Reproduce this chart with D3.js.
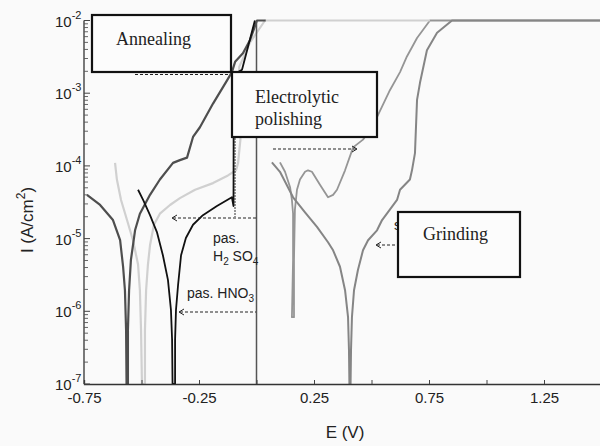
<!DOCTYPE html>
<html><head><meta charset="utf-8">
<script src="https://cdnjs.cloudflare.com/ajax/libs/d3/7.8.5/d3.min.js"></script>
<style>body{margin:0;background:#fafafa;}svg{display:block;}</style>
</head><body><svg id="c" width="600" height="446"></svg>
<script>
// ---- data (E in V, I in A/cm2) ----
const annealE = [-0.737,-0.680,-0.624,-0.593,-0.580,-0.572,-0.567,-0.565,-0.559,-0.559,-0.554,-0.546,-0.528,-0.507,-0.463,-0.420,-0.363,-0.333,-0.302,-0.276,-0.246,-0.189,-0.128,-0.107,-0.093,-0.059,-0.028,0.002,0.040];
const annealI = [4.0e-5,2.9e-5,1.8e-5,9.5e-6,4.1e-6,1.95e-6,5.5e-7,1e-7,1e-7,5.5e-7,1.95e-6,5.1e-6,1.3e-5,2.2e-5,4.0e-5,6.5e-5,1.1e-4,1.2e-4,1.3e-4,2.5e-4,3.4e-4,7.2e-4,1.5e-3,1.95e-3,2.7e-3,3.55e-3,5.4e-3,1e-2,1e-2];

const electroE = [-0.615,-0.607,-0.589,-0.563,-0.537,-0.515,-0.507,-0.502,-0.498,-0.485,-0.485,-0.480,-0.472,-0.463,-0.446,-0.420,-0.376,-0.333,-0.267,-0.189,-0.124,-0.089,-0.080,-0.070,-0.075,-0.028,0.037,0.754];
const electroI = [1.1e-4,6.5e-5,3.4e-5,1.8e-5,9.5e-6,4.4e-6,1.95e-6,5.5e-7,1e-7,1e-7,5.5e-7,1.95e-6,4.4e-6,8.1e-6,1.55e-5,2.2e-5,2.9e-5,3.6e-5,4.7e-5,5.8e-5,7.4e-5,8.7e-5,1.1e-4,2.3e-4,2.3e-3,5.0e-3,1e-2,1e-2];

const pasE = [-0.515,-0.493,-0.463,-0.433,-0.407,-0.385,-0.372,-0.367,-0.365,-0.354,-0.354,-0.350,-0.341,-0.328,-0.307,-0.276,-0.233,-0.172,-0.107,-0.100,-0.099,-0.063,-0.007];
const pasI = [4.7e-5,3.4e-5,2.1e-5,1.23e-5,5.9e-6,2.7e-6,1.05e-6,4.1e-7,1e-7,1e-7,4.1e-7,1.05e-6,2.3e-6,5.9e-6,1.02e-5,1.55e-5,2.1e-5,2.8e-5,3.7e-5,2.8e-5,1.8e-3,2.1e-3,1e-2];

const grindBE = [0.102,0.124,0.146,0.154,0.159,0.159,0.154,0.163,0.163,0.167,0.176,0.189,0.211,0.224,0.241,0.276,0.311,0.333,0.350,0.385,0.420,0.463,0.493,0.524,0.580,0.624,0.654,0.698,0.754,1.5];
const grindBI = [1.12e-4,8.3e-5,5.1e-5,3.4e-5,2.2e-5,5.1e-6,8.3e-7,8.3e-7,5.1e-6,2.5e-5,4.7e-5,6.5e-5,8.3e-5,8.7e-5,8.3e-5,5.5e-5,3.7e-5,4.0e-5,4.7e-5,8.7e-5,1.8e-4,2.3e-4,3.1e-4,4.7e-4,1.1e-3,1.95e-3,3.2e-3,5.75e-3,1e-2,1e-2];

const grindAE = [0.067,0.102,0.159,0.211,0.263,0.311,0.333,0.363,0.385,0.398,0.402,0.404,0.409,0.411,0.415,0.424,0.441,0.463,0.485,0.524,0.546,0.611,0.624,0.667,0.676,0.689,0.698,0.711,0.741,0.785,0.85,1.5];
const grindAI = [1.12e-4,8.3e-5,3.7e-5,2.3e-5,1.45e-5,8.9e-6,6.9e-6,4.1e-6,1.95e-6,8.3e-7,3.0e-7,1e-7,1e-7,3.0e-7,8.3e-7,1.95e-6,3.7e-6,6.9e-6,9.5e-6,1.3e-5,1.8e-5,3.4e-5,4.7e-5,6.5e-5,8.7e-5,1.5e-4,8.1e-4,1.4e-3,3.9e-3,6.8e-3,1e-2,1e-2];

const xTickValues = [-0.75,-0.5,-0.25,0,0.25,0.5,0.75,1.0,1.25,1.5];
const xTickLabels = ["-0.75","","-0.25","","0.25","","0.75","","1.25",""];
const yMajor = [1e-7,1e-6,1e-5,1e-4,1e-3,1e-2];
const yExp = ["-7","-6","-5","-4","-3","-2"];

// ---- scales ----
const svg = d3.select("#c");
const x = d3.scaleLinear().domain([-0.75,1.5]).range([84,601.5]);
const y = d3.scaleLog().domain([1e-7,1e-2]).range([384,20.5]);
const line = d3.line().x(d=>x(d[0])).y(d=>y(d[1]));
const zip = (a,b)=>a.map((v,i)=>[v,b[i]]);

const curves = [
  {E:grindBE, I:grindBI, c:"#959595", w:1.8},
  {E:grindAE, I:grindAI, c:"#858585", w:2},
  {E:electroE, I:electroI, c:"#d0d0d0", w:2.2},
  {E:annealE, I:annealI, c:"#4e4e4e", w:2.2},
  {E:pasE, I:pasI, c:"#111", w:1.8}
];
curves.forEach(cv=>{
  svg.append("path").attr("d", line(zip(cv.E,cv.I))).attr("fill","none")
    .attr("stroke",cv.c).attr("stroke-width",cv.w).attr("stroke-linejoin","round");
});

// E = 0 vertical line
svg.append("line").attr("x1",x(0)).attr("x2",x(0)).attr("y1",y(1e-2)).attr("y2",y(1e-7))
  .attr("stroke","#555").attr("stroke-width",1.5);

// ---- axes ----
const xAxis = d3.axisBottom(x).tickValues(xTickValues).tickSize(-4).tickPadding(8)
  .tickFormat((d,i)=>xTickLabels[i]);
const gx = svg.append("g").attr("transform","translate(0,384)").call(xAxis);
gx.select(".domain").attr("stroke","#333").attr("stroke-width",1.3);
gx.selectAll(".tick line").attr("stroke","#444");
gx.selectAll("text").attr("font-family","Liberation Sans, Arial, sans-serif").attr("font-size",15).attr("fill","#222");

const gy = svg.append("g");
gy.append("line").attr("x1",84).attr("x2",84).attr("y1",y(1e-2)).attr("y2",y(1e-7)).attr("stroke","#333").attr("stroke-width",1.3);
const minor = [];
for (let e=-7;e<-2;e++) for (let k=2;k<=9;k++) minor.push(k*Math.pow(10,e));
gy.selectAll("line.mn").data(minor).join("line").attr("class","mn")
  .attr("x1",84).attr("x2",88).attr("y1",d=>y(d)).attr("y2",d=>y(d)).attr("stroke","#555").attr("stroke-width",0.9);
gy.selectAll("line.mj").data(yMajor).join("line").attr("class","mj")
  .attr("x1",84).attr("x2",90).attr("y1",d=>y(d)).attr("y2",d=>y(d)).attr("stroke","#444");
const yl = gy.selectAll("text.yl").data(yMajor).join("text").attr("class","yl")
  .attr("x",55).attr("y",d=>y(d)+6).attr("font-family","Liberation Sans, Arial, sans-serif").attr("font-size",15).attr("fill","#222");
yl.append("tspan").text("10");
yl.append("tspan").attr("dy",-8).attr("font-size",11).text((d,i)=>yExp[i]);

// axis titles
const yt = svg.append("text").attr("transform","translate(33,220) rotate(-90)").attr("text-anchor","middle")
  .attr("font-family","Liberation Sans, Arial, sans-serif").attr("font-size",17).attr("fill","#222");
yt.append("tspan").text("I (A/cm");
yt.append("tspan").attr("dy",-8).attr("font-size",12).text("2");
yt.append("tspan").attr("dy",8).text(")");
svg.append("text").attr("x",345).attr("y",438).attr("text-anchor","middle")
  .attr("font-family","Liberation Sans, Arial, sans-serif").attr("font-size",17).attr("fill","#222").text("E (V)");

// ---- annotations ----
const dash = (x1,x2,yy)=>svg.append("line").attr("x1",x1).attr("x2",x2).attr("y1",yy).attr("y2",yy)
  .attr("stroke","#222").attr("stroke-width",1.2).attr("stroke-dasharray","3,2");
const headL = (xx,yy)=>svg.append("path").attr("d",`M${xx+5},${yy-3}L${xx},${yy}L${xx+5},${yy+3}`).attr("fill","none").attr("stroke","#222").attr("stroke-width",1);
const headR = (xx,yy)=>svg.append("path").attr("d",`M${xx-5},${yy-3}L${xx},${yy}L${xx-5},${yy+3}`).attr("fill","none").attr("stroke","#222").attr("stroke-width",1);
dash(135,230,74.5);
dash(273,356,149); headR(357,149);
dash(173,256,218); headL(172,218);
dash(180,256,312); headL(179,312);
dash(377,398,245); headL(376,245);
svg.append("line").attr("x1",235).attr("x2",235).attr("y1",138).attr("y2",217).attr("stroke","#333").attr("stroke-width",1).attr("stroke-dasharray","2,1");

const sans = "Liberation Sans, Arial, sans-serif";
svg.append("text").attr("x",213).attr("y",243).attr("font-family",sans).attr("font-size",14).attr("fill","#222").text("pas.");
const h2 = svg.append("text").attr("x",213).attr("y",261).attr("font-family",sans).attr("font-size",14).attr("fill","#222");
h2.append("tspan").text("H");
h2.append("tspan").attr("dy",4).attr("font-size",10).text("2");
h2.append("tspan").attr("dy",-4).text(" SO");
h2.append("tspan").attr("dy",4).attr("font-size",10).text("4");
const hn = svg.append("text").attr("x",187).attr("y",298).attr("font-family",sans).attr("font-size",14).attr("fill","#222");
hn.append("tspan").text("pas. HNO");
hn.append("tspan").attr("dy",4).attr("font-size",10).text("3");
svg.append("text").attr("x",394).attr("y",230).attr("font-family",sans).attr("font-size",14).attr("fill","#222").text("s");

// ---- label boxes ----
const serif = "Liberation Serif, Times New Roman, serif";
const box = (x0,y0,x1,y1,lines)=>{
  svg.append("rect").attr("x",x0).attr("y",y0).attr("width",x1-x0).attr("height",y1-y0)
    .attr("fill","#fcfcfc").attr("stroke","#111").attr("stroke-width",2.2);
  lines.forEach(l=>svg.append("text").attr("x",l[0]).attr("y",l[1]).attr("font-family",serif)
    .attr("font-size",18).attr("fill","#222").text(l[2]));
};
box(92,15,231,72,[[116,45,"Annealing"]]);
box(232,72,377,137,[[255,103,"Electrolytic"],[255,125,"polishing"]]);
box(398,212,520,277,[[423,240,"Grinding"]]);
</script></body></html>
